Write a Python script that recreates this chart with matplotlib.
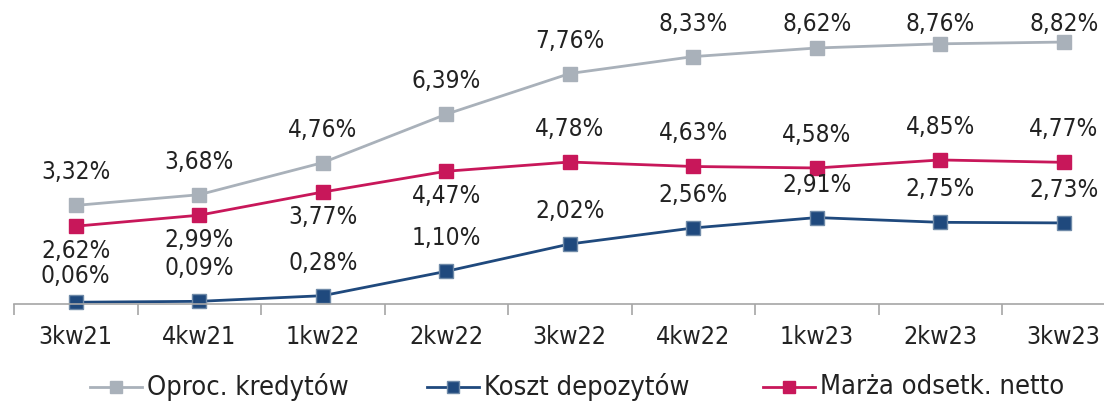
import numpy as np
import matplotlib.pyplot as plt
from matplotlib.lines import Line2D
from matplotlib import font_manager as fm

# Quarter labels and series values (%)
quarters = ['3kw21', '4kw21', '1kw22', '2kw22', '3kw22', '4kw22', '1kw23', '2kw23', '3kw23']
oproc = [3.32, 3.68, 4.76, 6.39, 7.76, 8.33, 8.62, 8.76, 8.82]
koszt = [0.06, 0.09, 0.28, 1.10, 2.02, 2.56, 2.91, 2.75, 2.73]
marza = [2.62, 2.99, 3.77, 4.47, 4.78, 4.63, 4.58, 4.85, 4.77]
series_names = ['Oproc. kredytów', 'Koszt depozytów', 'Marża odsetk. netto']

c_gray = '#A9B1BA'
c_navy = '#1F497D'
c_red = '#C8175A'
c_text = '#222222'

# pick a narrow font if one is installed
cond = [f.fname for f in fm.fontManager.ttflist
        if f.name == 'DejaVu Sans' and f.stretch == 'condensed' and f.weight in (400, 'normal')
        and f.style == 'normal']
narrow = [f.fname for f in fm.fontManager.ttflist
          if f.name == 'Liberation Sans Narrow' and f.weight in (400, 'normal') and f.style == 'normal']
if cond:
    fp_lab = fm.FontProperties(fname=cond[0], size=17.5)
    fp_tick = fm.FontProperties(fname=cond[0], size=18)
    fp_leg = fm.FontProperties(fname=cond[0], size=19.5)
elif narrow:
    fp_lab = fm.FontProperties(fname=narrow[0], size=19.5)
    fp_tick = fm.FontProperties(fname=narrow[0], size=20)
    fp_leg = fm.FontProperties(fname=narrow[0], size=22)
else:
    fp_lab = fm.FontProperties(family='DejaVu Sans', size=15.5)
    fp_tick = fm.FontProperties(family='DejaVu Sans', size=15.5)
    fp_leg = fm.FontProperties(family='DejaVu Sans', size=17)

W, H = 1104, 401
fig = plt.figure(figsize=(W / 100, H / 100), dpi=100)
ax = fig.add_axes([14 / W, (H - 304) / H, 1111.5 / W, 297 / H])
ppu = 29.7  # pixels per percentage point

x = np.arange(len(quarters))

ax.plot(x, oproc, color=c_gray, lw=2, marker='s', ms=9.5, mfc=c_gray, mec=c_gray, clip_on=False)
ax.plot(x, koszt, color=c_navy, lw=2, marker='s', ms=9.5, mfc=c_navy, mec='#6F8AA8', mew=1,
        clip_on=False)
ax.plot(x, marza, color=c_red, lw=2, marker='s', ms=9.5, mfc=c_red, mec=c_red, clip_on=False)


def fmt(v):
    return f'{v:.2f}%'.replace('.', ',')


# data labels (offsets in pixels, converted to data units)
for i, v in enumerate(oproc):
    ax.text(i, min(v + 33 / ppu, 9.42), fmt(v), ha='center', va='center',
            fontproperties=fp_lab, color=c_text)
for i, v in enumerate(koszt):
    off = 26 if i == 0 else 33
    ax.text(i, v + off / ppu, fmt(v), ha='center', va='center',
            fontproperties=fp_lab, color=c_text)
for i, v in enumerate(marza):
    off = -25 if i < 4 else 33
    ax.text(i, v + off / ppu, fmt(v), ha='center', va='center',
            fontproperties=fp_lab, color=c_text)

ax.set_xlim(-0.5, len(quarters) - 0.5)
ax.set_ylim(0, 10)

for s in ['top', 'right', 'left']:
    ax.spines[s].set_visible(False)
ax.spines['bottom'].set_color('#A6A6A6')
ax.spines['bottom'].set_linewidth(1.2)
ax.set_yticks([])

ax.set_xticks(x)
ax.set_xticklabels(quarters, fontproperties=fp_tick, color=c_text)
ax.set_xticks(np.arange(-0.5, len(quarters), 1), minor=True)
ax.tick_params(axis='x', which='major', length=0, pad=15)
ax.tick_params(axis='x', which='minor', length=8, color='#A6A6A6', width=1.2)

# legend drawn by hand: handle line with square marker, then the label
leg_styles = [
    dict(color=c_gray, mfc=c_gray, mec=c_gray),
    dict(color=c_navy, mfc=c_navy, mec='#6F8AA8'),
    dict(color=c_red, mfc=c_red, mec=c_red),
]
leg_x = [90, 427, 763]
leg_y = 387
for x0, st, name in zip(leg_x, leg_styles, series_names):
    fig.add_artist(Line2D([x0 / W, (x0 + 52) / W], [1 - leg_y / H] * 2, lw=2,
                          color=st['color'], transform=fig.transFigure))
    fig.add_artist(Line2D([(x0 + 26) / W], [1 - leg_y / H], marker='s', ms=8,
                          mfc=st['mfc'], mec=st['mec'], mew=1, transform=fig.transFigure))
    fig.text((x0 + 57) / W, 1 - leg_y / H, name, ha='left', va='center',
             fontproperties=fp_leg, color=c_text)

fig.savefig('out.png', dpi=100)
